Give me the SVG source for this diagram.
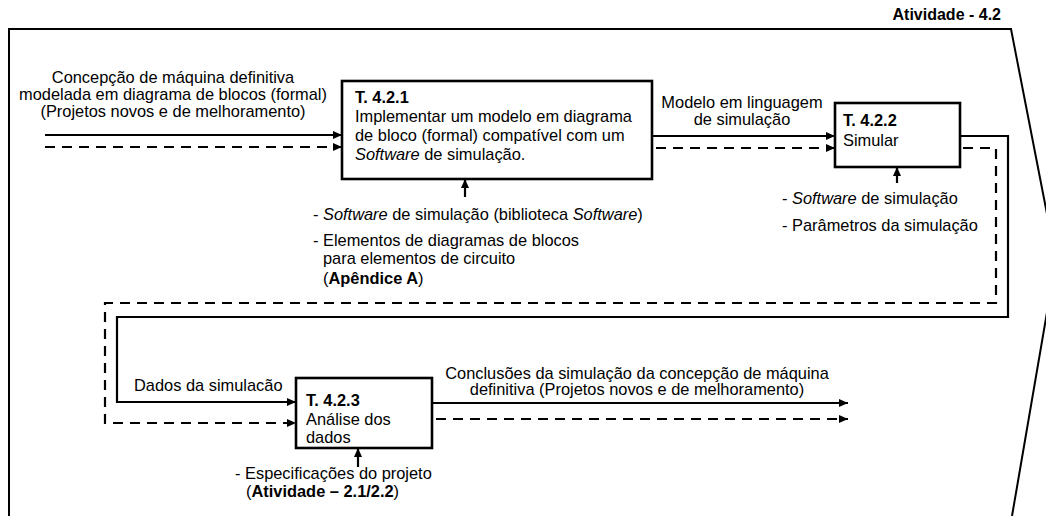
<svg xmlns="http://www.w3.org/2000/svg" width="1046" height="516" viewBox="0 0 1046 516">
<style>
text{font-family:"Liberation Sans",Arial,sans-serif;font-size:16.4px;fill:#000}
.b{font-weight:bold}
.i{font-style:italic}
.box{fill:#fff;stroke:#000;stroke-width:2.6}
.ln{fill:none;stroke:#000;stroke-width:2.2}
.ds{fill:none;stroke:#000;stroke-width:2.2;stroke-dasharray:10 7}
.fr{fill:none;stroke:#000;stroke-width:2}
.m{text-anchor:middle}
</style>
<defs>
<marker id="ah" markerUnits="userSpaceOnUse" markerWidth="10" markerHeight="8" refX="9" refY="4" orient="auto">
<path d="M0,0 L9,4 L0,8 z" fill="#000"/>
</marker>
</defs>
<g id="frame">
<path class="fr" d="M9,516 L9,29 L1011,29 L1056,260 L1012,516"/>
<text class="b" x="1001" y="20" text-anchor="end" style="font-size:16px">Atividade - 4.2</text>
</g>
<g id="connectors">
<path class="ln" d="M45,135 L342,135" marker-end="url(#ah)"/>
<path class="ds" d="M45,147 L342,147" marker-end="url(#ah)"/>
<path class="ln" d="M652,136 L835,136" marker-end="url(#ah)"/>
<path class="ds" d="M656,148 L835,148" marker-end="url(#ah)"/>
<path class="ln" d="M960,136 L1008,136 L1008,317 L117,317 L117,402 L296,402" marker-end="url(#ah)"/>
<path class="ds" d="M963,148 L996,148 L996,303 L105,303 L105,423 L296,423" marker-end="url(#ah)"/>
<path class="ln" d="M432,403 L848,403" marker-end="url(#ah)"/>
<path class="ds" d="M436,419 L848,419" marker-end="url(#ah)"/>
<path class="ln" d="M465,197 L465,179" marker-end="url(#ah)"/>
<path class="ln" d="M897,183 L897,167" marker-end="url(#ah)"/>
<path class="ln" d="M358,467 L358,448" marker-end="url(#ah)"/>
<text class="m" x="173" y="83">Concepção de máquina definitiva</text>
<text class="m" x="173" y="100">modelada em diagrama de blocos (formal)</text>
<text class="m" x="173" y="117">(Projetos novos e de melhoramento)</text>
<text class="m" x="742" y="108">Modelo em linguagem</text>
<text class="m" x="742" y="125">de simulação</text>
<text x="134" y="391">Dados da simulacão</text>
<text class="m" x="637" y="379">Conclusões da simulação da concepção de máquina</text>
<text class="m" x="637" y="395">definitiva (Projetos novos e de melhoramento)</text>
<text x="313" y="220">- <tspan class="i">Software</tspan> de simulação (biblioteca <tspan class="i">Software</tspan>)</text>
<text x="313" y="246">- Elementos de diagramas de blocos</text>
<text x="323" y="264">para elementos de circuito</text>
<text x="323" y="284">(<tspan class="b">Apêndice A</tspan>)</text>
<text x="782" y="204">- <tspan class="i">Software</tspan> de simulação</text>
<text x="782" y="231">- Parâmetros da simulação</text>
<text x="235" y="479">- Especificações do projeto</text>
<text x="246" y="497">(<tspan class="b">Atividade – 2.1/2.2</tspan>)</text>
</g>
<g id="t421">
<rect class="box" x="342" y="81" width="310" height="98"/>
<text class="b" x="355" y="103">T. 4.2.1</text>
<text x="355" y="122">Implementar um modelo em diagrama</text>
<text x="355" y="141">de bloco (formal) compatível com um</text>
<text x="355" y="160"><tspan class="i">Software</tspan> de simulação.</text>
</g>
<g id="t422">
<rect class="box" x="835" y="103" width="125" height="64"/>
<text class="b" x="843" y="126">T. 4.2.2</text>
<text x="843" y="146">Simular</text>
</g>
<g id="t423">
<rect class="box" x="296" y="378" width="136" height="70"/>
<text class="b" x="306" y="406">T. 4.2.3</text>
<text x="306" y="425">Análise dos</text>
<text x="306" y="443">dados</text>
</g>
</svg>
